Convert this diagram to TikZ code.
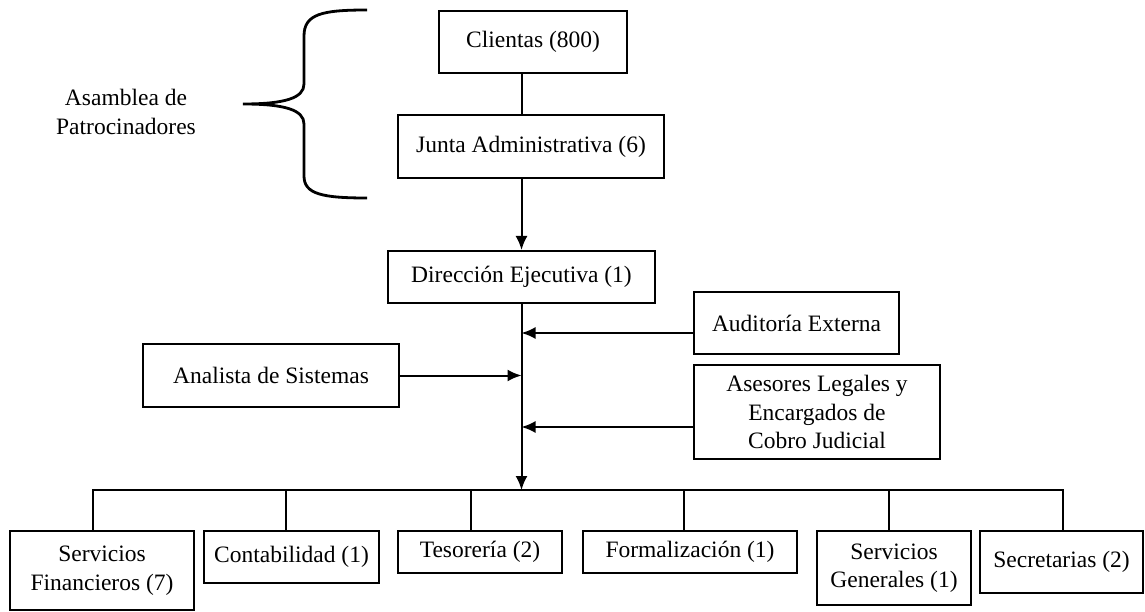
\documentclass[tikz,border=0pt]{standalone}
\usepackage{fontspec}
\setmainfont{Liberation Serif}
\usetikzlibrary{arrows.meta,calc}
\begin{document}
\begin{tikzpicture}[x=1pt,y=-1pt,
  every node/.style={font=\fontsize{23.5}{28.5}\selectfont, inner sep=0pt, align=center},
  box/.style={draw, line width=2pt},
  conn/.style={line width=2pt},
  arr/.style={line width=2pt, -{Latex[length=14pt,width=12pt]}}]
\useasboundingbox (0,0) rectangle (1145,612);
% brace and its label
\draw[line width=2.8pt] (367,10) .. controls (322,10) and (304,14) .. (304,36) -- (304,84)
  .. controls (304,98) and (285,104) .. (243,104)
  .. controls (285,104) and (304,110) .. (304,124) -- (304,176)
  .. controls (304,194) and (322,198) .. (367,198);
\node (asam) at (126,112) {Asamblea de\\Patrocinadores};
% boxes
\node[box, minimum width=188, minimum height=62] (cli) at (533,42) {Clientas (800)};
\node[box, minimum width=266, minimum height=63] (junta) at (531,146.5) {Junta Administrativa (6)};
\node[box, minimum width=267, minimum height=52] (dir) at (521.5,277) {Dirección Ejecutiva (1)};
\node[box, minimum width=205, minimum height=62] (aud) at (796.5,323) {Auditoría Externa};
\node[box, minimum width=246, minimum height=94] (ase) at (817,412) {Asesores Legales y\\Encargados de\\Cobro Judicial};
\node[box, minimum width=256, minimum height=63] (ana) at (271,375.5) {Analista de Sistemas};
\node[box, minimum width=184, minimum height=79] (sf) at (102,570.5) {Servicios\\Financieros (7)};
\node[box, minimum width=175, minimum height=52] (cont) at (291.5,557) {Contabilidad (1)};
\node[box, minimum width=164, minimum height=42] (tes) at (480,552) {Tesorería (2)};
\node[box, minimum width=214, minimum height=42] (form) at (690,552) {Formalización (1)};
\node[box, minimum width=154, minimum height=74] (sg) at (894,568) {Servicios\\Generales (1)};
\node[box, minimum width=163, minimum height=62] (sec) at (1061.5,562) {Secretarias (2)};
\coordinate (bar) at (521.5,490);
% connectors
\draw[conn] (dir.north |- cli.south) -- (dir.north |- junta.north);
\draw[arr] (dir.north |- junta.south) -- (dir.north);
\draw[arr] (dir.south) -- (bar);
\draw[arr] ([yshift=-10pt]aud.west) -- ([yshift=-10pt]aud.west -| dir.south);
\draw[arr] (ana.east) -- (ana.east -| dir.south);
\draw[arr] ([yshift=-15pt]ase.west) -- ([yshift=-15pt]ase.west -| dir.south);
\draw[conn] ([xshift=-9pt]sf.north) |- ([xshift=1.5pt]sec.north |- bar) -- ([xshift=1.5pt]sec.north);
\draw[conn] ([xshift=-5.5pt]cont.north) -- ([xshift=-5.5pt]cont.north |- bar);
\draw[conn] ([xshift=-9pt]tes.north) -- ([xshift=-9pt]tes.north |- bar);
\draw[conn] ([xshift=-6pt]form.north) -- ([xshift=-6pt]form.north |- bar);
\draw[conn] ([xshift=-5pt]sg.north) -- ([xshift=-5pt]sg.north |- bar);
\end{tikzpicture}
\end{document}
